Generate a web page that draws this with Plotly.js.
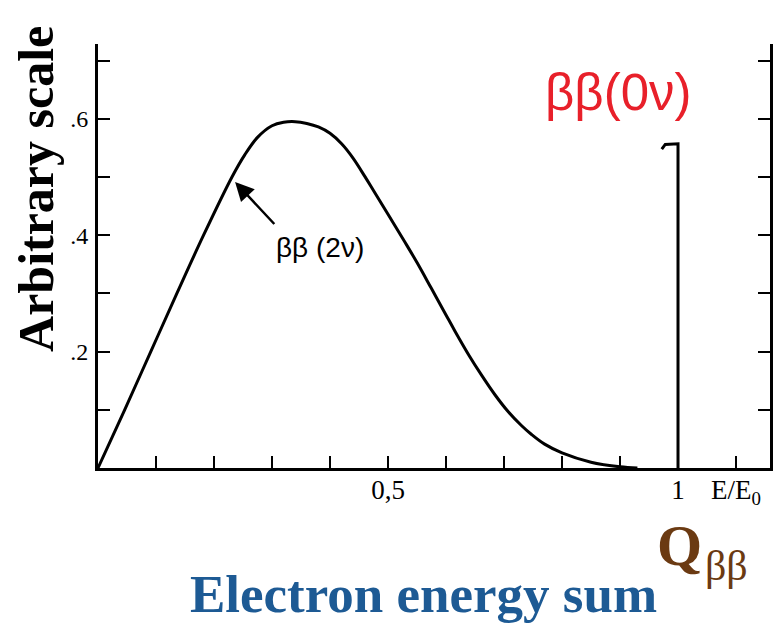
<!DOCTYPE html>
<html>
<head>
<meta charset="utf-8">
<script src="https://cdn.plot.ly/plotly-3.0.1.min.js"></script>
<style>html,body{margin:0;padding:0;background:#fff;}#chart{width:774px;height:626px;}</style>
</head>
<body>
<div id="chart"></div>
<script>
// 2-neutrino double beta spectrum
const x2nu = [0, 0.046, 0.091, 0.136, 0.182, 0.231, 0.253, 0.275, 0.300, 0.320, 0.340, 0.360, 0.380, 0.400, 0.420, 0.440, 0.460, 0.476, 0.500, 0.528, 0.550, 0.574, 0.600, 0.615, 0.640, 0.661, 0.685, 0.707, 0.730, 0.747, 0.770, 0.800, 0.850, 0.900, 0.930];
const y2nu = [0, 0.1, 0.2, 0.3, 0.4, 0.5, 0.538, 0.568, 0.588, 0.594, 0.595, 0.592, 0.586, 0.575, 0.557, 0.532, 0.501, 0.475, 0.436, 0.390, 0.353, 0.310, 0.263, 0.236, 0.193, 0.160, 0.125, 0.097, 0.073, 0.058, 0.041, 0.026, 0.010, 0.002, 0];
// 0-neutrino line at the Q value
const x0nu = [0.972, 0.978, 1.0, 1.0];
const y0nu = [0.548, 0.556, 0.557, 0];
// ticks
const xLabelVals = [0.5, 1.0, 1.1];
const xLabelText = ['0,5', '1', 'E/E<sub>0</sub>'];
const xMinorVals = [0.1, 0.2, 0.3, 0.4, 0.5, 0.6, 0.7, 0.8, 0.9, 1.0, 1.1];
const yLabelVals = [0.2, 0.4, 0.6];
const yLabelText = ['.2', '.4', '.6'];
const yMinorVals = [0.1, 0.2, 0.3, 0.4, 0.5, 0.6, 0.7];

const traces = [
  {x: x2nu, y: y2nu, type: 'scatter', mode: 'lines', line: {color: '#000', width: 3, shape: 'spline', smoothing: 1}, hoverinfo: 'skip'},
  {x: x0nu, y: y0nu, type: 'scatter', mode: 'lines', yaxis: 'y2', line: {color: '#000', width: 3}, hoverinfo: 'skip'}
];

const serif = 'Liberation Serif, Times New Roman, serif';
const sans = 'Liberation Sans, Arial, sans-serif';
const yr = [0, 0.7285];
const tickStyle = {ticks: 'inside', ticklen: 12, tickwidth: 2, tickcolor: '#000'};
const layout = {
  width: 774, height: 626,
  margin: {l: 98, r: 4, t: 44, b: 158, pad: 0},
  paper_bgcolor: '#fff', plot_bgcolor: '#fff',
  showlegend: false,
  xaxis: Object.assign({range: [0, 1.1586], showgrid: false, zeroline: false, showline: true, linecolor: '#000', linewidth: 3,
    tickmode: 'array', tickvals: xLabelVals, ticktext: xLabelText, ticklabelstandoff: -4,
    tickfont: {family: serif, size: 27, color: '#000'}, fixedrange: true,
    minor: Object.assign({tickmode: 'array', tickvals: xMinorVals, showgrid: false}, tickStyle)}, tickStyle),
  yaxis: Object.assign({range: yr, showgrid: false, zeroline: false, showline: true, linecolor: '#000', linewidth: 3,
    tickmode: 'array', tickvals: yLabelVals, ticktext: yLabelText, ticklabelstandoff: 2,
    tickfont: {family: serif, size: 24, color: '#000'}, fixedrange: true,
    minor: Object.assign({tickmode: 'array', tickvals: yMinorVals, showgrid: false}, tickStyle)}, tickStyle),
  yaxis2: Object.assign({range: yr, overlaying: 'y', side: 'right', showgrid: false, zeroline: false, showline: true, linecolor: '#000', linewidth: 3,
    tickmode: 'array', tickvals: yMinorVals, showticklabels: false, fixedrange: true}, tickStyle),
  annotations: [
    {xref: 'x', yref: 'y', x: 0.234, y: 0.494, axref: 'pixel', ax: 42, ay: 45, text: '', showarrow: true,
      arrowhead: 2, arrowsize: 1.5, arrowwidth: 2.5, arrowcolor: '#000', standoff: 2},
    {xref: 'x', yref: 'y', x: 0.383, y: 0.379, xanchor: 'center', yanchor: 'middle', text: 'ββ (2ν)', showarrow: false,
      font: {family: sans, size: 28, color: '#000'}},
    {xref: 'x', yref: 'y', x: 0.897, y: 0.645, xanchor: 'center', yanchor: 'middle', text: 'ββ(0ν)', showarrow: false,
      font: {family: sans, size: 51, color: '#e8202a'}},
    {xref: 'paper', yref: 'paper', x: -0.0923, y: 0.658, xanchor: 'center', yanchor: 'middle', text: '<b>Arbitrary scale</b>', textangle: -90, showarrow: false,
      font: {family: serif, size: 50, color: '#000'}},
    {xref: 'paper', yref: 'paper', x: (423 - 98) / 672, y: (468 - 594) / 424, xanchor: 'center', yanchor: 'middle', text: '<b>Electron energy sum</b>', showarrow: false,
      font: {family: serif, size: 53, color: '#1d5a94'}},
    {xref: 'x', yref: 'paper', x: 1.003, y: (468 - 545) / 424, xanchor: 'center', yanchor: 'middle', text: '<b>Q</b>', showarrow: false,
      font: {family: serif, size: 58, color: '#6b3a12'}},
    {xref: 'x', yref: 'paper', x: 1.083, y: (468 - 566) / 424, xanchor: 'center', yanchor: 'middle', text: 'ββ', showarrow: false,
      font: {family: serif, size: 42, color: '#6b3a12'}}
  ]
};
Plotly.newPlot('chart', traces, layout, {staticPlot: true, displayModeBar: false});
</script>
</body>
</html>
